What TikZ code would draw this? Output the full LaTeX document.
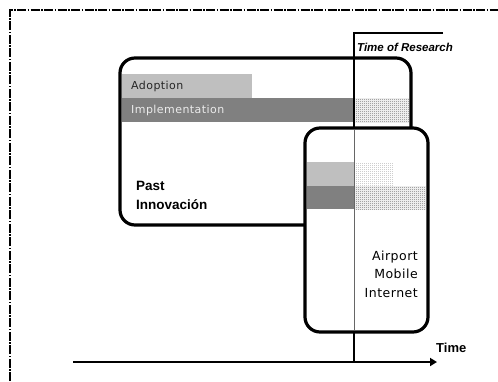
\documentclass[tikz,border=0pt]{standalone}
\usepackage{fontspec}
\setmainfont{Liberation Sans}
\newfontfamily\labelfont[LetterSpace=4]{DejaVu Sans}
\usetikzlibrary{patterns,arrows.meta}
\pgfdeclarepatternformonly{finecheck}{\pgfpointorigin}{\pgfpoint{2pt}{2pt}}{\pgfpoint{2pt}{2pt}}{%
  \pgfpathrectangle{\pgfpointorigin}{\pgfpoint{1pt}{1pt}}%
  \pgfpathrectangle{\pgfpoint{1pt}{1pt}}{\pgfpoint{1pt}{1pt}}%
  \pgfusepath{fill}}
\pgfdeclarepatternformonly{finevdots}{\pgfpointorigin}{\pgfpoint{2pt}{2pt}}{\pgfpoint{2pt}{2pt}}{%
  \pgfpathrectangle{\pgfpointorigin}{\pgfpoint{1pt}{1pt}}%
  \pgfusepath{fill}}
\tikzset{
  roundbox/.style={draw=black, line width=3.2pt, fill=white, rounded corners=15pt},
  lightbar/.style={fill=black!25},
  darkbar/.style={fill=black!50},
  checkfill/.style={pattern=finecheck, pattern color=black!55},
  dotfill/.style={pattern=finevdots, pattern color=black!45},
  barlabel/.style={anchor=west, font=\labelfont\fontsize{11}{13}\selectfont, inner sep=0pt},
  boldlabel/.style={font=\bfseries\fontsize{13.5}{19}\selectfont, inner sep=0pt}
}
\begin{document}
\begin{tikzpicture}[x=1pt,y=-1pt]
\useasboundingbox (0,0) rectangle (498,381);
\fill[white] (0,0) rectangle (498,381);
% dash-dot frame (top and left visible)
\draw[line width=1.4pt, dash pattern=on 9pt off 1.5pt on 1.5pt off 1.5pt] (10,381) -- (10,10) -- (498,10);
% big box
\draw[roundbox] (120,58) rectangle (411,225);
\fill[lightbar] (122,74) rectangle (252,98);
\fill[darkbar] (122,98) rectangle (354,122);
\fill[checkfill] (354,98) rectangle (409,122);
\node[barlabel, text=black!85] (adopt) at (131,86) {Adoption};
\node[barlabel, text=black!8] (impl) at (131,110) {Implementation};
\node[boldlabel, anchor=west, align=left] (past) at (136,195) {Past\\Innovación};
% time of research line
\coordinate (rtop) at (354,33);
\coordinate (rend) at (443,33);
\coordinate (rbot) at (354,362);
\draw[line width=1.8pt] (rend) -- (rtop) -- (rbot);
\node[font=\bfseries\itshape\fontsize{11.5}{13}\selectfont, anchor=west, inner sep=0pt] (tor) at (357,47) {Time of Research};
% small box
\draw[roundbox] (305,128) rectangle (428,332);
\fill[lightbar] (307,162) rectangle (354,186);
\fill[dotfill] (354,162) rectangle (393,186);
\fill[darkbar] (307,186) rectangle (354,209);
\fill[checkfill] (354,186) rectangle (426,209);
\coordinate (sin) at (354,130);
\coordinate (sout) at (354,330);
\draw[line width=0.6pt, black!60] (sin) -- (sout);
\node[font=\labelfont\fontsize{12.5}{18.5}\selectfont, align=right, anchor=east, inner sep=0pt] (apt) at (418,274) {Airport\\Mobile\\Internet};
% time axis
\coordinate (ax0) at (73,362);
\coordinate (ax1) at (437,362);
\draw[line width=2.4pt, -{Triangle[length=7pt,width=8pt]}] (ax0) -- (ax1);
\node[font=\bfseries\fontsize{13}{15}\selectfont, anchor=west, inner sep=0pt] (time) at (436,348) {Time};
\end{tikzpicture}
\end{document}
